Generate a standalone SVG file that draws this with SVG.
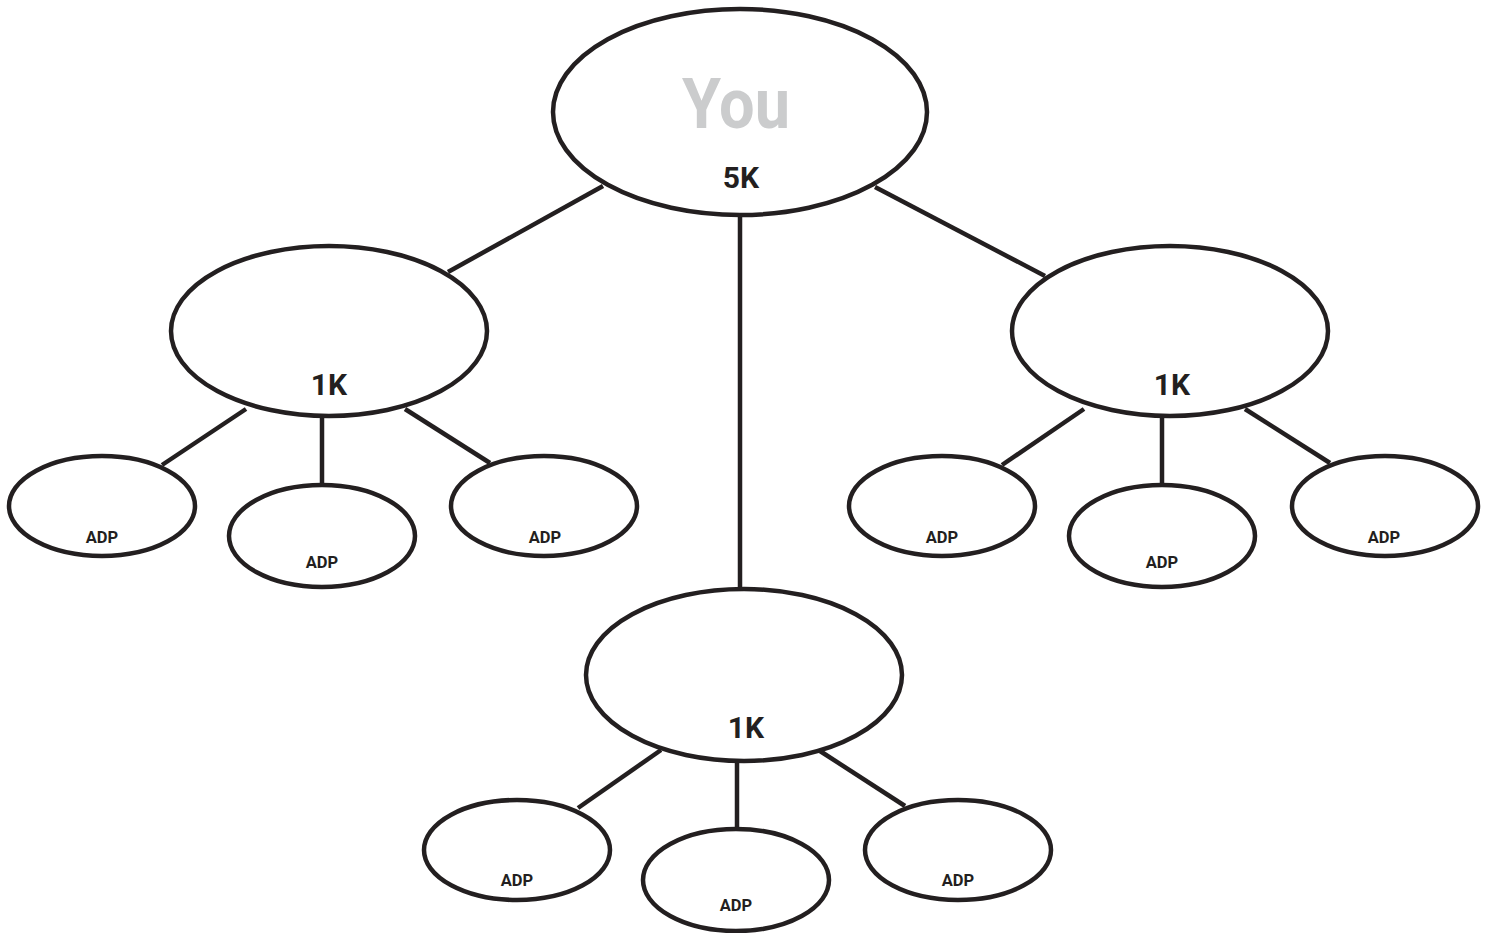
<svg xmlns="http://www.w3.org/2000/svg" width="1491" height="933" viewBox="0 0 1491 933">
<style>
.n{fill:#ffffff;stroke:#231f20;stroke-width:4.5}
.c line{stroke:#231f20;stroke-width:4.5}
.t{font-family:Roboto,"Liberation Sans",sans-serif;font-weight:700;fill:#231f20;text-anchor:middle}
.k{font-size:30px}
.a{font-size:16.5px}
.you{font-size:70px;fill:#cbcccd}
</style>
<rect width="1491" height="933" fill="#ffffff"/>
<g id="connectors" class="c">
<line x1="603" y1="186" x2="448" y2="272"/>
<line x1="740" y1="216" x2="740" y2="589"/>
<line x1="875" y1="187" x2="1045" y2="276"/>
<line x1="246" y1="409" x2="162" y2="465"/>
<line x1="322" y1="418" x2="322" y2="486"/>
<line x1="405" y1="409" x2="490" y2="463"/>
<line x1="1084" y1="409" x2="1002" y2="465"/>
<line x1="1162" y1="418" x2="1162" y2="486"/>
<line x1="1245" y1="409" x2="1330" y2="463"/>
<line x1="661" y1="750" x2="578" y2="808"/>
<line x1="737" y1="760" x2="737" y2="829"/>
<line x1="820" y1="751" x2="905" y2="806"/>
</g>
<g id="you">
<ellipse class="n" cx="740" cy="112" rx="187" ry="103"/>
<text class="t you" x="736" y="128" textLength="108" lengthAdjust="spacingAndGlyphs">You</text>
<text class="t k" x="741" y="188">5K</text>
</g>
<g id="left">
<ellipse class="n" cx="329" cy="331" rx="158" ry="85"/>
<text class="t k" x="329" y="395">1K</text>
</g>
<g id="right">
<ellipse class="n" cx="1170" cy="331" rx="158" ry="85"/>
<text class="t k" x="1172" y="395">1K</text>
</g>
<g id="bottom">
<ellipse class="n" cx="744" cy="675" rx="158" ry="86"/>
<text class="t k" x="746" y="738">1K</text>
</g>
<g id="l1"><ellipse class="n" cx="102" cy="506" rx="93" ry="50"/><text class="t a" x="102" y="543">ADP</text></g>
<g id="l2"><ellipse class="n" cx="322" cy="536" rx="93" ry="51"/><text class="t a" x="322" y="568">ADP</text></g>
<g id="l3"><ellipse class="n" cx="544" cy="506" rx="93" ry="50"/><text class="t a" x="545" y="543">ADP</text></g>
<g id="r1"><ellipse class="n" cx="942" cy="506" rx="93" ry="50"/><text class="t a" x="942" y="543">ADP</text></g>
<g id="r2"><ellipse class="n" cx="1162" cy="536" rx="93" ry="51"/><text class="t a" x="1162" y="568">ADP</text></g>
<g id="r3"><ellipse class="n" cx="1385" cy="506" rx="93" ry="50"/><text class="t a" x="1384" y="543">ADP</text></g>
<g id="b1"><ellipse class="n" cx="517" cy="850" rx="93" ry="50"/><text class="t a" x="517" y="886">ADP</text></g>
<g id="b2"><ellipse class="n" cx="736" cy="880" rx="93" ry="51"/><text class="t a" x="736" y="911">ADP</text></g>
<g id="b3"><ellipse class="n" cx="958" cy="850" rx="93" ry="50"/><text class="t a" x="958" y="886">ADP</text></g>
</svg>
